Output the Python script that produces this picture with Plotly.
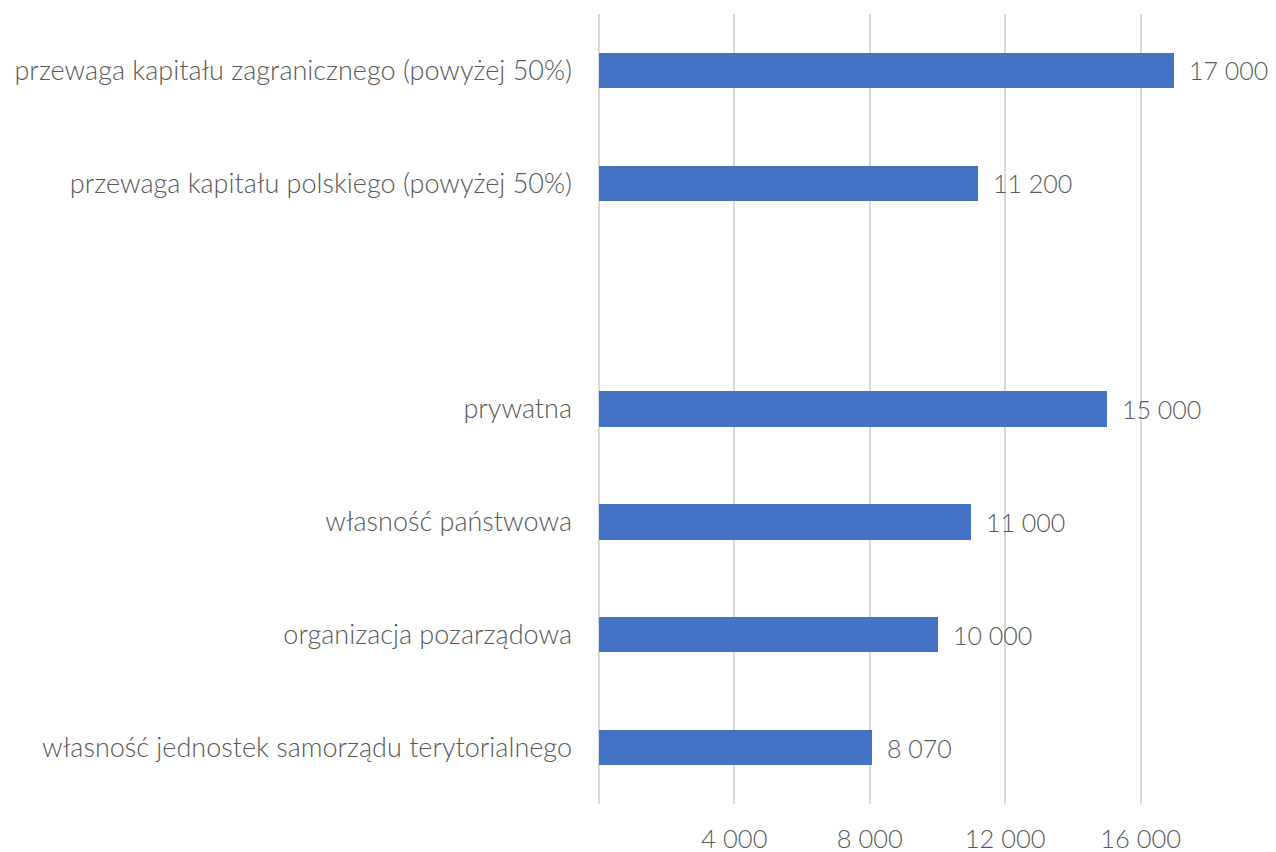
import plotly.graph_objects as go

categories = [
    "przewaga kapitału zagranicznego (powyżej 50%)",
    "przewaga kapitału polskiego (powyżej 50%)",
    " ",
    "prywatna",
    "własność państwowa",
    "organizacja pozarządowa",
    "własność jednostek samorządu terytorialnego",
]
values = [17000, 11200, None, 15000, 11000, 10000, 8070]
tick_vals = [0, 4000, 8000, 12000, 16000, 20000]
tick_text = ["", "4 000", "8 000", "12 000", "16 000", ""]

FONT = "Lato"
TXT = "#595959"
FS = 27
FS_NUM = 25

def fmt(v):
    return f"{v:,.0f}".replace(",", " ")

fig = go.Figure()
fig.add_trace(go.Bar(
    y=categories, x=values, orientation="h",
    marker=dict(color="#4472C4", line=dict(width=0)),
    width=0.315, hoverinfo="skip",
))

for c, v in zip(categories, values):
    if v is None:
        continue
    fig.add_annotation(x=v, y=c, text=fmt(v), showarrow=False,
                       xanchor="left", yanchor="middle", xshift=13,
                       font=dict(family=FONT, size=FS_NUM, color=TXT, weight=300))

fig.update_layout(
    width=1268, height=844,
    margin=dict(l=591, r=0, t=6, b=48),
    plot_bgcolor="white", paper_bgcolor="white",
    showlegend=False,
    font=dict(family=FONT, size=FS, color=TXT, weight=300),
    bargap=0,
)
fig.update_xaxes(range=[0, 20000], tickvals=tick_vals, ticktext=tick_text,
                 showgrid=True, gridcolor="#d9d9d9", gridwidth=1.5,
                 zeroline=True, zerolinecolor="#d9d9d9", zerolinewidth=1.5,
                 showline=False, ticks="outside", ticklen=12,
                 tickcolor="rgba(0,0,0,0)", automargin=False,
                 tickfont=dict(family=FONT, size=25.5, color=TXT, weight=300))
fig.update_yaxes(categoryorder="array", categoryarray=categories,
                 autorange="reversed", showgrid=False, zeroline=False,
                 showline=False, ticks="", ticklabelstandoff=26, automargin=False,
                 tickfont=dict(family=FONT, size=FS, color=TXT, weight=300))

fig.write_html("out.html")
